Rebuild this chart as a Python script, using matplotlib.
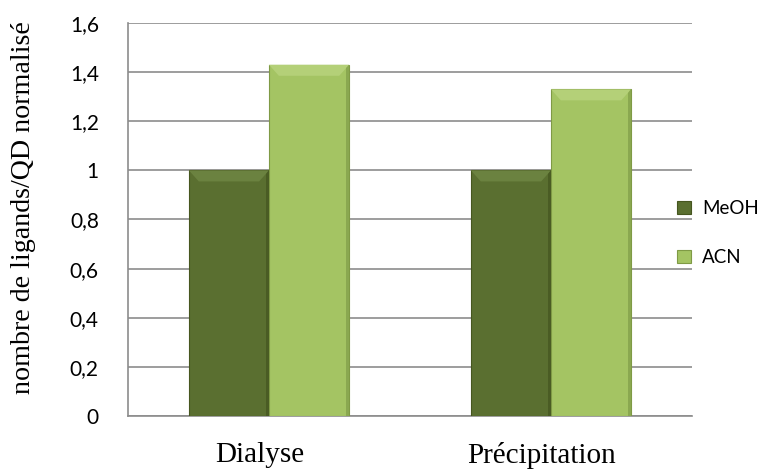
import numpy as np
import matplotlib.pyplot as plt
from matplotlib.patches import Polygon
from matplotlib.transforms import ScaledTranslation

categories = ['Dialyse', 'Précipitation']
meoh = [1.0, 1.0]
acn = [1.43, 1.33]
yticks = [0, 0.2, 0.4, 0.6, 0.8, 1.0, 1.2, 1.4, 1.6]
ytick_labels = ['0', '0,2', '0,4', '0,6', '0,8', '1', '1,2', '1,4', '1,6']

dark = '#5a6f30'
light = '#a4c463'

fig = plt.figure(figsize=(7.74, 4.73), dpi=100)
ax = fig.add_axes([128/774, 1-416/473, (692-128)/774, (416-23)/473])

x = np.arange(len(categories))
w = 0.284
b1 = ax.bar(x - w/2, meoh, w, color=dark, edgecolor='#46561f', linewidth=0.8, label='MeOH', zorder=3)
b2 = ax.bar(x + w/2, acn, w, color=light, edgecolor='#7f9a45', linewidth=0.8, label='ACN', zorder=3)

# bevel on the bar tops and right sides
def bevel(bars, top_col, side_col):
    for r in bars:
        x0, y0 = r.get_x(), r.get_y()
        x1, y1 = x0 + r.get_width(), y0 + r.get_height()
        dx = 0.035
        dy = 0.045
        ax.add_patch(Polygon([(x0, y1), (x1, y1), (x1 - dx, y1 - dy), (x0 + dx, y1 - dy)],
                             closed=True, color=top_col, lw=0, zorder=4))
        ax.add_patch(Polygon([(x1, y1), (x1, y0), (x1 - 0.012, y0), (x1 - 0.012, y1 - 0.015)],
                             closed=True, color=side_col, lw=0, zorder=4))

bevel(b1, '#6b8240', '#4a5c24')
bevel(b2, '#b4d078', '#8aa850')

ax.set_xlim(-0.5, 1.5)
ax.set_ylim(0, 1.6)
ax.set_yticks(yticks)
ax.set_yticklabels(ytick_labels, family='Lato', fontsize=15)
ax.set_xticks(x)
ax.set_xticklabels(categories, family='Liberation Serif', fontsize=21)
ax.tick_params(axis='x', length=0, pad=19)
ax.tick_params(axis='y', length=0, pad=21)
# category labels sit slightly left of the group centres
for lab in ax.get_xticklabels():
    lab.set_transform(lab.get_transform() + ScaledTranslation(-0.09, 0, fig.dpi_scale_trans))
ax.yaxis.grid(True, color='#8c8c8c', linewidth=1.2, zorder=0)
ax.set_axisbelow(True)
for s in ['top', 'right']:
    ax.spines[s].set_visible(False)
ax.spines['left'].set_color('#8c8c8c')
ax.spines['bottom'].set_color('#8c8c8c')
ax.spines['left'].set_linewidth(1.2)
ax.spines['bottom'].set_linewidth(1.2)

ax.set_ylabel('nombre de ligands/QD normalisé', family='Liberation Serif', fontsize=20.2)
ax.yaxis.set_label_coords((36 - 128) / 564, 0.53)

ax.legend(loc='center left', bbox_to_anchor=(660/774, 1 - 233/473), bbox_transform=fig.transFigure,
          frameon=False, prop={'family': 'Lato', 'size': 13.5}, handlelength=0.75, handleheight=0.75,
          labelspacing=1.7, handletextpad=0.6)

fig.savefig('out.png', dpi=100)
